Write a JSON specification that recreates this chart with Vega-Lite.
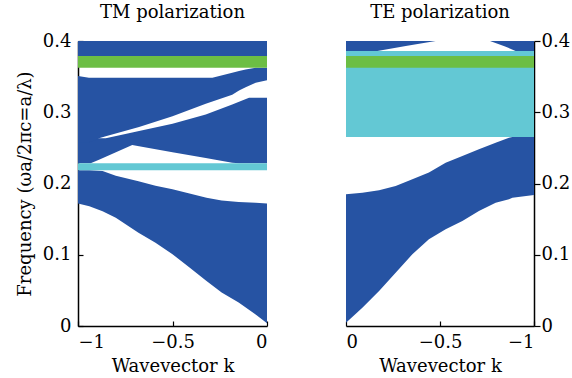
{
  "$schema": "https://vega.github.io/schema/vega-lite/v6.json",
  "background": "white",
  "padding": {"left": 16, "top": 4, "right": 5, "bottom": 5},
  "bounds": "flush",
  "spacing": 79,
  "config": {
    "view": {"stroke": null},
    "font": "DejaVu Serif",
    "axis": {
      "grid": false,
      "zindex": 1,
      "domain": true,
      "domainColor": "black",
      "domainWidth": 1.5,
      "tickColor": "black",
      "tickWidth": 1.2,
      "labelFont": "DejaVu Serif",
      "titleFont": "DejaVu Serif",
      "labelFontSize": 18,
      "titleFontSize": 18,
      "labelColor": "black",
      "titleColor": "black",
      "titleFontWeight": "normal"
    },
    "title": {"font": "DejaVu Serif", "fontSize": 18, "fontWeight": "normal", "color": "black"}
  },
  "datasets": {
    "tm": [
      {"series": "A", "k": -1, "lo": 0.172, "hi": 0.2185},
      {"series": "A", "k": -0.94, "lo": 0.168, "hi": 0.2185},
      {"series": "A", "k": -0.87, "lo": 0.161, "hi": 0.2175},
      {"series": "A", "k": -0.8, "lo": 0.152, "hi": 0.211},
      {"series": "A", "k": -0.68, "lo": 0.131, "hi": 0.203},
      {"series": "A", "k": -0.59, "lo": 0.117, "hi": 0.197},
      {"series": "A", "k": -0.5, "lo": 0.1006, "hi": 0.192},
      {"series": "A", "k": -0.41, "lo": 0.082, "hi": 0.186},
      {"series": "A", "k": -0.32, "lo": 0.063, "hi": 0.18},
      {"series": "A", "k": -0.24, "lo": 0.047, "hi": 0.176},
      {"series": "A", "k": -0.15, "lo": 0.033, "hi": 0.174},
      {"series": "A", "k": -0.06, "lo": 0.016, "hi": 0.173},
      {"series": "A", "k": 0, "lo": 0.004, "hi": 0.172},
      {"series": "B", "k": -1, "lo": 0.2283, "hi": 0.2634},
      {"series": "B", "k": -0.933, "lo": 0.2283, "hi": 0.2634},
      {"series": "B", "k": -0.889, "lo": 0.2334, "hi": 0.2634},
      {"series": "B", "k": -0.853, "lo": 0.2376, "hi": 0.2634},
      {"series": "B", "k": -0.713, "lo": 0.254, "hi": 0.2716},
      {"series": "B", "k": -0.677, "lo": 0.2523, "hi": 0.2737},
      {"series": "B", "k": -0.5, "lo": 0.244, "hi": 0.284},
      {"series": "B", "k": -0.324, "lo": 0.2358, "hi": 0.297},
      {"series": "B", "k": -0.184, "lo": 0.2292, "hi": 0.311},
      {"series": "B", "k": -0.148, "lo": 0.2285, "hi": 0.3149},
      {"series": "B", "k": -0.095, "lo": 0.2283, "hi": 0.3205},
      {"series": "B", "k": 0, "lo": 0.2283, "hi": 0.3205},
      {"series": "C", "k": -1, "lo": 0.258, "hi": 0.3509},
      {"series": "C", "k": -0.942, "lo": 0.258, "hi": 0.3485},
      {"series": "C", "k": -0.9, "lo": 0.2615, "hi": 0.3485},
      {"series": "C", "k": -0.889, "lo": 0.2634, "hi": 0.3485},
      {"series": "C", "k": -0.853, "lo": 0.2662, "hi": 0.3485},
      {"series": "C", "k": -0.677, "lo": 0.2793, "hi": 0.3485},
      {"series": "C", "k": -0.5, "lo": 0.2943, "hi": 0.3485},
      {"series": "C", "k": -0.324, "lo": 0.312, "hi": 0.3485},
      {"series": "C", "k": -0.289, "lo": 0.315, "hi": 0.3485},
      {"series": "C", "k": -0.184, "lo": 0.3245, "hi": 0.3556},
      {"series": "C", "k": -0.148, "lo": 0.3307, "hi": 0.358},
      {"series": "C", "k": -0.113, "lo": 0.335, "hi": 0.36},
      {"series": "C", "k": -0.06, "lo": 0.3415, "hi": 0.3626},
      {"series": "C", "k": 0, "lo": 0.3448, "hi": 0.3626},
      {"series": "D", "k": -1, "lo": 0.379, "hi": 0.4},
      {"series": "D", "k": 0, "lo": 0.379, "hi": 0.4}
    ],
    "tmRects": [
      {"kind": "cyan", "k0": -1, "k1": 0, "lo": 0.2185, "hi": 0.2283},
      {"kind": "green", "k0": -1, "k1": 0, "lo": 0.3626, "hi": 0.379}
    ],
    "te": [
      {"series": "T1", "k": 0, "lo": 0.386, "hi": 0.4},
      {"series": "T1", "k": -0.167, "lo": 0.386, "hi": 0.4},
      {"series": "T1", "k": -0.318, "lo": 0.393, "hi": 0.4},
      {"series": "T1", "k": -0.477, "lo": 0.4, "hi": 0.4},
      {"series": "T2", "k": -0.766, "lo": 0.4, "hi": 0.4},
      {"series": "T2", "k": -0.85, "lo": 0.392, "hi": 0.4},
      {"series": "T2", "k": -0.902, "lo": 0.386, "hi": 0.4},
      {"series": "T2", "k": -1, "lo": 0.386, "hi": 0.4},
      {"series": "L", "k": 0, "lo": 0.0047, "hi": 0.1848},
      {"series": "L", "k": -0.087, "lo": 0.0257, "hi": 0.187},
      {"series": "L", "k": -0.176, "lo": 0.0491, "hi": 0.1904},
      {"series": "L", "k": -0.264, "lo": 0.0749, "hi": 0.1965},
      {"series": "L", "k": -0.353, "lo": 0.1006, "hi": 0.2058},
      {"series": "L", "k": -0.441, "lo": 0.1216, "hi": 0.2155},
      {"series": "L", "k": -0.53, "lo": 0.1357, "hi": 0.2292},
      {"series": "L", "k": -0.619, "lo": 0.1474, "hi": 0.2386},
      {"series": "L", "k": -0.707, "lo": 0.1614, "hi": 0.248},
      {"series": "L", "k": -0.796, "lo": 0.173, "hi": 0.2573},
      {"series": "L", "k": -0.867, "lo": 0.178, "hi": 0.2643},
      {"series": "L", "k": -0.885, "lo": 0.18, "hi": 0.2653},
      {"series": "L", "k": -1, "lo": 0.1839, "hi": 0.2653}
    ],
    "teRects": [
      {"kind": "cyan", "k0": 0, "k1": -1, "lo": 0.2653, "hi": 0.386},
      {"kind": "green", "k0": 0, "k1": -1, "lo": 0.3626, "hi": 0.379}
    ]
  },
  "hconcat": [
    {
      "width": 189,
      "height": 285,
      "title": {"text": "TM polarization", "offset": 10},
      "layer": [
        {
          "data": {"name": "tm"},
          "mark": {"type": "area", "color": "#2653A3", "interpolate": "linear"},
          "encoding": {
            "x": {"field": "k", "type": "quantitative", "scale": {"domain": [-1, 0], "nice": false, "zero": false},
              "axis": {"values": [-1, -0.5, 0], "title": "Wavevector k", "tickSize": -5, "labelPadding": 12, "titlePadding": 6, "format": "~g"}},
            "y": {"field": "lo", "type": "quantitative", "scale": {"domain": [0, 0.4], "nice": false},
              "axis": {"values": [0, 0.1, 0.2, 0.3, 0.4], "title": "Frequency (ωa/2πc=a/λ)", "tickSize": -5, "labelPadding": 12, "titlePadding": 8, "format": "~g"}},
            "y2": {"field": "hi"},
            "detail": {"field": "series"}
          }
        },
        {
          "data": {"name": "tmRects"},
          "mark": {"type": "rect"},
          "encoding": {
            "x": {"field": "k0", "type": "quantitative"},
            "x2": {"field": "k1"},
            "y": {"field": "lo", "type": "quantitative"},
            "y2": {"field": "hi"},
            "color": {"field": "kind", "type": "nominal", "scale": {"domain": ["cyan", "green"], "range": ["#63C8D4", "#6CBE44"]}, "legend": null}
          }
        }
      ]
    },
    {
      "width": 188,
      "height": 285,
      "title": {"text": "TE polarization", "offset": 10},
      "layer": [
        {
          "data": {"name": "teRects"},
          "mark": {"type": "rect"},
          "encoding": {
            "x": {"field": "k0", "type": "quantitative", "scale": {"domain": [-1, 0], "nice": false, "zero": false, "reverse": true},
              "axis": {"values": [-1, -0.5, 0], "title": "Wavevector k", "tickSize": -5, "labelPadding": 12, "titlePadding": 6, "format": "~g"}},
            "x2": {"field": "k1"},
            "y": {"field": "lo", "type": "quantitative", "scale": {"domain": [0, 0.4], "nice": false},
              "axis": {"orient": "right", "values": [0, 0.1, 0.2, 0.3, 0.4], "title": null, "tickSize": 6, "labelPadding": 1, "format": "~g"}},
            "y2": {"field": "hi"},
            "color": {"field": "kind", "type": "nominal", "scale": {"domain": ["cyan", "green"], "range": ["#63C8D4", "#6CBE44"]}, "legend": null}
          }
        },
        {
          "data": {"name": "te"},
          "mark": {"type": "area", "color": "#2653A3", "interpolate": "linear"},
          "encoding": {
            "x": {"field": "k", "type": "quantitative"},
            "y": {"field": "lo", "type": "quantitative"},
            "y2": {"field": "hi"},
            "detail": {"field": "series"}
          }
        }
      ]
    }
  ]
}
